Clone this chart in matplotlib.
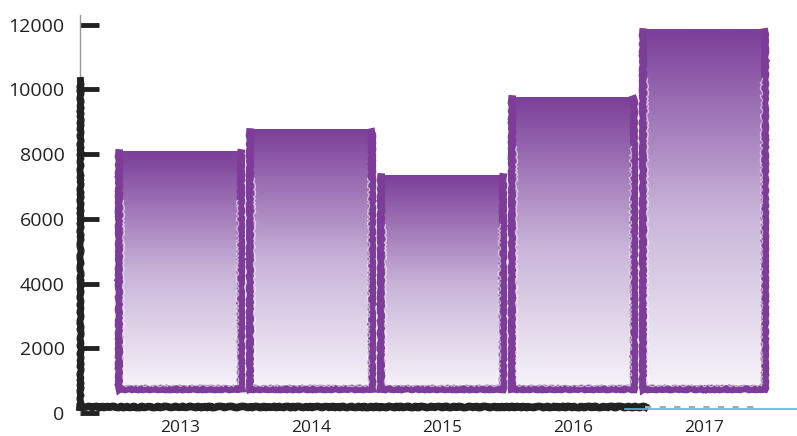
import numpy as np
import matplotlib
matplotlib.use("Agg")
import matplotlib.pyplot as plt
from matplotlib.colors import LinearSegmentedColormap

# data
years = ["2013", "2014", "2015", "2016", "2017"]
values = [8080, 8750, 7340, 9750, 11850]
bar_base = 650
yticks = [0, 2000, 4000, 6000, 8000, 10000, 12000]

purple = "#7D3C98"
ink = "#222222"
grad = LinearSegmentedColormap.from_list("g", ["#F8F5FA", "#C8B3D8", "#7B3F99"])

plt.rcParams['font.family'] = ['Open Sans', 'DejaVu Sans']
fig = plt.figure(figsize=(7.97, 4.36), dpi=100)
ax = fig.add_axes([80 / 797, 23 / 436, 717 / 797, 398 / 436])

xs = np.arange(len(years))
width = 0.955
ax.set_xlim(-0.763, 4.71)
ax.set_ylim(0, 12300)

g = np.linspace(0, 1, 256).reshape(-1, 1)
for x, v in zip(xs, values):
    left, right = x - width / 2, x + width / 2
    ax.imshow(g, cmap=grad, origin="lower", aspect="auto",
              extent=[left, right, bar_base, v], zorder=2)
    border, = ax.plot([left + 0.015, left + 0.015, right - 0.015, right - 0.015],
                      [v - 60, bar_base + 80, bar_base + 80, v - 60],
                      color=purple, lw=5.5, solid_joinstyle="miter", zorder=3)
    border.set_sketch_params(scale=0.5, length=10, randomness=4)
    inner, = ax.plot([left + 0.045, left + 0.045, right - 0.045, right - 0.045],
                     [v - 1500, bar_base + 220, bar_base + 220, v - 1500],
                     color="white", lw=1.0, alpha=0.6, zorder=3)
    inner.set_sketch_params(scale=1.0, length=10, randomness=6)

for s in ["top", "right", "bottom"]:
    ax.spines[s].set_visible(False)
# thin grey spine on top, heavy brush stroke lower down
ax.spines["left"].set_linewidth(1)
ax.spines["left"].set_color("#999999")
stroke, = ax.plot([-0.763, -0.763], [200, 10300], color=ink, lw=5,
                  clip_on=False, zorder=4)
stroke.set_sketch_params(scale=0.6, length=10, randomness=4)
base, = ax.plot([-0.763, 3.55], [180, 180], color=ink, lw=5.5,
                clip_on=False, zorder=4)
base.set_sketch_params(scale=0.6, length=10, randomness=4)
ax.plot([3.4, 4.71], [130, 130], color="#3EC3E3", lw=1.2, zorder=4, clip_on=False)
ax.plot([3.55, 4.4], [190, 190], color="#aaaaaa", lw=1.5, ls=(0, (3, 4)), zorder=4)

ax.set_yticks(yticks)
ax.set_yticklabels([str(t) for t in yticks], fontsize=14, color=ink)
ax.tick_params(axis="y", direction="in", length=14, width=3.5, color=ink, pad=11)
ax.set_xticks(xs)
ax.set_xticklabels(years, fontsize=12.5, color=ink)
ax.tick_params(axis="x", length=0, pad=5)

fig.savefig("out.png", dpi=100)
